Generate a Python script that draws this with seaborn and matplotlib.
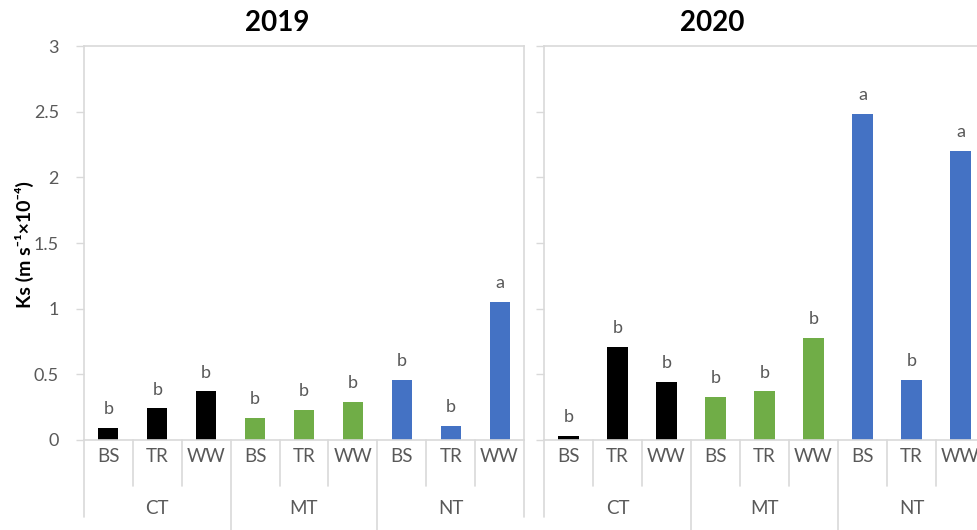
import matplotlib
matplotlib.use("Agg")
import matplotlib.pyplot as plt
import seaborn as sns
import pandas as pd

tillage = ["CT", "CT", "CT", "MT", "MT", "MT", "NT", "NT", "NT"]
residue = ["BS", "TR", "WW", "BS", "TR", "WW", "BS", "TR", "WW"]
groups = ["CT", "MT", "NT"]
ks_2019 = [0.09, 0.24, 0.37, 0.17, 0.23, 0.29, 0.46, 0.11, 1.05]
ks_2020 = [0.03, 0.71, 0.44, 0.33, 0.37, 0.78, 2.48, 0.46, 2.20]
letters_2019 = ["b", "b", "b", "b", "b", "b", "b", "b", "a"]
letters_2020 = ["b", "b", "b", "b", "b", "b", "a", "b", "a"]
years = ["2019", "2020"]
yticks = [0, 0.5, 1, 1.5, 2, 2.5, 3]
ylabels = ["0", "0.5", "1", "1.5", "2", "2.5", "3"]
group_colors = {"CT": "#000000", "MT": "#70AD47", "NT": "#4472C4"}

sns.set_theme(style="white")
plt.rcParams["font.family"] = ["Lato", "DejaVu Sans"]

W, H = 977, 530
fig = plt.figure(figsize=(W / 100, H / 100), dpi=100)

GRAY = "#D9D9D9"
TXT = "#595959"

ax_bottom_px = 440
ax_top_px = 46
ax_h_px = ax_bottom_px - ax_top_px
panels = [(84, 524), (544, 985)]

def frac(px_below):
    return -px_below / ax_h_px

for k, (year, vals, lets) in enumerate(zip(years, [ks_2019, ks_2020], [letters_2019, letters_2020])):
    x0, x1 = panels[k]
    ax = fig.add_axes([x0 / W, 1 - ax_bottom_px / H, (x1 - x0) / W, ax_h_px / H])
    cats = [f"{t}-{r}" for t, r in zip(tillage, residue)]
    df = pd.DataFrame({"cat": cats, "val": vals, "till": tillage})
    pal = [group_colors[t] for t in tillage]
    sns.barplot(data=df, x="cat", y="val", hue="cat", palette=pal, order=cats,
                hue_order=cats, legend=False, width=0.41, ax=ax, linewidth=0,
                saturation=1)
    ax.set_xlim(-0.5, 8.5)
    ax.set_ylim(0, 3)
    ax.set_yticks(yticks)
    if k == 0:
        ax.set_yticklabels(ylabels)
    else:
        ax.set_yticklabels([])
    ax.tick_params(axis="y", length=6, width=1, color=GRAY, labelcolor=TXT,
                   labelsize=13, pad=12, left=True)
    ax.set_xticks([])
    ax.set_xlabel("")
    ax.set_ylabel("")
    for s in ax.spines.values():
        s.set_color(GRAY)
        s.set_linewidth(1.2)
    ax.spines["top"].set_visible(True)
    ax.spines["right"].set_visible(True)

    for i, (v, l) in enumerate(zip(vals, lets)):
        ax.annotate(l, (i, v), xytext=(0, 10), textcoords="offset points",
                    ha="center", va="baseline", fontsize=13, color=TXT)

    tr = ax.get_xaxis_transform()
    for i, r in enumerate(residue):
        ax.text(i, frac(17), r, transform=tr, ha="center", va="center",
                fontsize=13.5, color=TXT)
    for g_i, g in enumerate(groups):
        ax.text(g_i * 3 + 1, frac(69), g, transform=tr, ha="center", va="center",
                fontsize=13.5, color=TXT)
    for i in range(8):
        xs = i + 0.5
        if i in (2, 5):
            yb = frac(95)
        else:
            yb = frac(46)
        ax.plot([xs, xs], [0, yb], transform=tr, color=GRAY, lw=1.2, clip_on=False)
    for xs in (-0.5, 8.5):
        ax.plot([xs, xs], [0, frac(77)], transform=tr, color=GRAY, lw=1.2, clip_on=False)

fig.text(277 / W, 1 - 23 / H, "2019", ha="center", va="center", fontsize=20,
         fontweight="bold", color="black")
fig.text(712 / W, 1 - 23 / H, "2020", ha="center", va="center", fontsize=20,
         fontweight="bold", color="black")
fig.text(24 / W, 1 - 245 / H, "Ks (m s\u207b\u00b9\u00d710\u207b\u2074)", rotation=90,
         ha="center", va="center", fontsize=14, fontweight="bold", color="black")

fig.savefig("out.png", dpi=100)
